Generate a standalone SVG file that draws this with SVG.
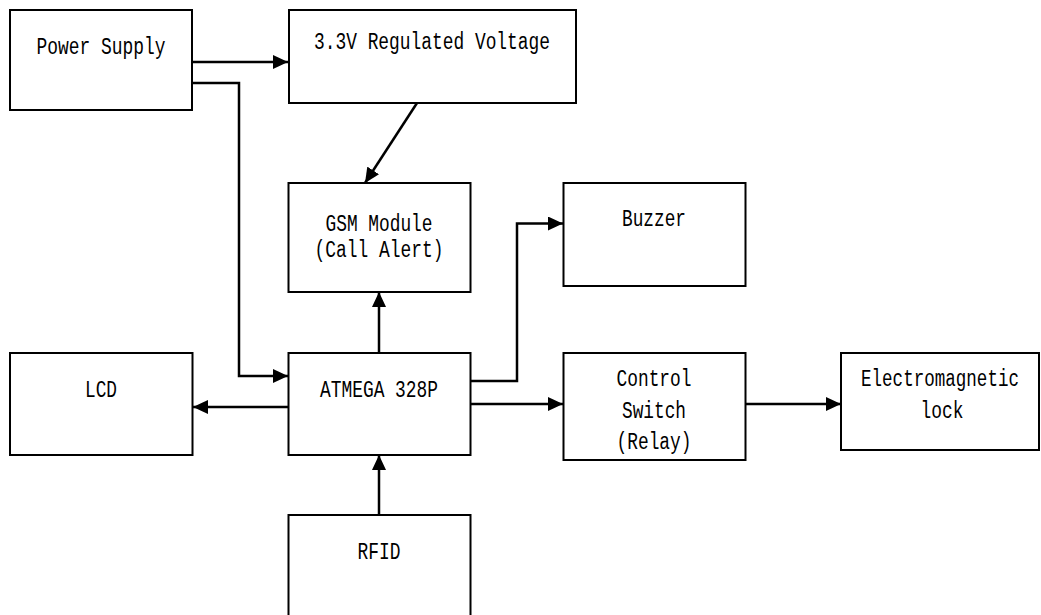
<svg xmlns="http://www.w3.org/2000/svg" width="1041" height="615" viewBox="0 0 1041 615">
<style>
.box{fill:#fff;stroke:#000;stroke-width:2}
.lbl{font-family:"Liberation Mono",monospace;font-size:23px;fill:#000;text-anchor:middle}
.con{fill:none;stroke:#000;stroke-width:2.5}
</style>
<defs>
<marker id="ah" markerUnits="userSpaceOnUse" markerWidth="16" markerHeight="14" refX="15" refY="7" orient="auto">
<path d="M0,0 L15,7 L0,14 z" fill="#000"/>
</marker>
</defs>
<rect width="1041" height="615" fill="#fff"/>
<g id="power"><rect class="box" x="10" y="10" width="182" height="100"/><text class="lbl" x="101" y="54" textLength="129" lengthAdjust="spacingAndGlyphs">Power Supply</text></g>
<g id="reg"><rect class="box" x="289" y="10" width="287" height="93"/><text class="lbl" x="432" y="49" textLength="236" lengthAdjust="spacingAndGlyphs">3.3V Regulated Voltage</text></g>
<g id="gsm"><rect class="box" x="288.5" y="183" width="182" height="109"/><text class="lbl" x="379" y="231" textLength="107" lengthAdjust="spacingAndGlyphs">GSM Module</text><text class="lbl" x="379" y="257" textLength="129" lengthAdjust="spacingAndGlyphs">(Call Alert)</text></g>
<g id="buzzer"><rect class="box" x="563.5" y="183" width="182" height="103"/><text class="lbl" x="654" y="226" textLength="64" lengthAdjust="spacingAndGlyphs">Buzzer</text></g>
<g id="lcd"><rect class="box" x="10" y="353" width="182.5" height="102"/><text class="lbl" x="101" y="397" textLength="32" lengthAdjust="spacingAndGlyphs">LCD</text></g>
<g id="atmega"><rect class="box" x="288.5" y="353" width="182" height="102"/><text class="lbl" x="379" y="397" textLength="118" lengthAdjust="spacingAndGlyphs">ATMEGA 328P</text></g>
<g id="control"><rect class="box" x="563.5" y="353" width="182" height="107"/><text class="lbl" x="654" y="386" textLength="75" lengthAdjust="spacingAndGlyphs">Control</text><text class="lbl" x="654" y="418" textLength="64" lengthAdjust="spacingAndGlyphs">Switch</text><text class="lbl" x="654" y="449" textLength="75" lengthAdjust="spacingAndGlyphs">(Relay)</text></g>
<g id="lock"><rect class="box" x="841" y="353" width="198" height="97"/><text class="lbl" x="940" y="386" textLength="158" lengthAdjust="spacingAndGlyphs">Electromagnetic</text><text class="lbl" x="942" y="418" textLength="43" lengthAdjust="spacingAndGlyphs">lock</text></g>
<g id="rfid"><rect class="box" x="288.5" y="515" width="182" height="110"/><text class="lbl" x="379" y="559" textLength="43" lengthAdjust="spacingAndGlyphs">RFID</text></g>
<g id="connectors">
<path class="con" d="M192,62 H288" marker-end="url(#ah)"/>
<path class="con" d="M192,83 H239 V376 H288" marker-end="url(#ah)"/>
<path class="con" d="M417,103 L365,183" marker-end="url(#ah)"/>
<path class="con" d="M379,353 V292" marker-end="url(#ah)"/>
<path class="con" d="M470.5,381 H517 V223.5 H563" marker-end="url(#ah)"/>
<path class="con" d="M470.5,404 H563" marker-end="url(#ah)"/>
<path class="con" d="M745.5,404 H841" marker-end="url(#ah)"/>
<path class="con" d="M288.5,407 H193" marker-end="url(#ah)"/>
<path class="con" d="M379,515 V455" marker-end="url(#ah)"/>
</g>
</svg>
